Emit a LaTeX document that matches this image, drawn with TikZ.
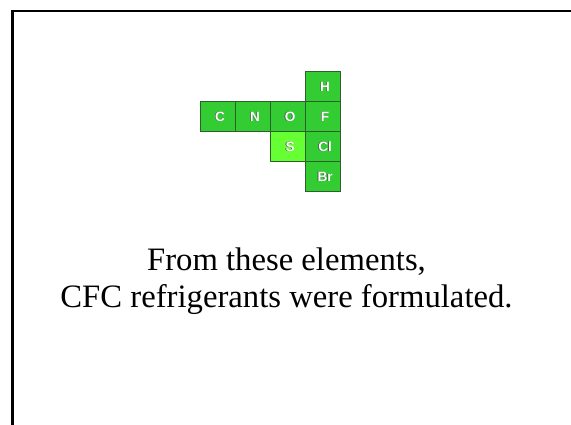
\documentclass[tikz,border=0pt]{standalone}
\usepackage{fontspec}
\setmainfont{Liberation Serif}
\newfontfamily\cellfont{Liberation Sans}
\definecolor{elemgreen}{HTML}{33CC33}
\definecolor{elemlight}{HTML}{66FF33}
\definecolor{cellline}{HTML}{2E5E2E}
\begin{document}
\begin{tikzpicture}[x=1pt,y=-1pt,
  cellbox/.style={draw=cellline,line width=0.8pt,fill=elemgreen,
    minimum width=35pt,minimum height=30pt,inner sep=0pt,anchor=north west},
  lightbox/.style={cellbox,fill=elemlight},
  symshadow/.style={text=black!75,font=\cellfont\bfseries\fontsize{13.5}{13.5}\selectfont},
  symtext/.style={text=white,font=\cellfont\bfseries\fontsize{13.5}{13.5}\selectfont},
  caption/.style={font=\fontsize{32.7}{37}\selectfont,align=center}]
  \useasboundingbox (0,0) rectangle (571,425);
  \fill[white] (0,0) rectangle (571,425);
  % slide frame, running off the right and bottom edges
  \draw[line width=2.6pt] (12.5,440) -- (12.5,11) -- (590,11);

  % element cells
  \node[cellbox]  (H)  at (305,71)  {};
  \node[cellbox]  (C)  at (200,101) {};
  \node[cellbox]  (N)  at (235,101) {};
  \node[cellbox]  (O)  at (270,101) {};
  \node[cellbox]  (F)  at (305,101) {};
  \node[lightbox] (S)  at (270,131) {};
  \node[cellbox]  (Cl) at (305,131) {};
  \node[cellbox]  (Br) at (305,161) {};

  % element symbols with a dark emboss
  \foreach \c/\s in {H/H,C/C,N/N,O/O,F/F,S/S,Cl/Cl,Br/Br}{
    \node[symshadow] at ([shift={(1.5,0.7)}]\c.center) {\s};
    \node[symtext]   at ([shift={(2.2,0)}]\c.center) {\s};
  }

  \node[caption] (cap) at (286.5,281) {From these elements,\\CFC refrigerants were formulated.};
\end{tikzpicture}
\end{document}
